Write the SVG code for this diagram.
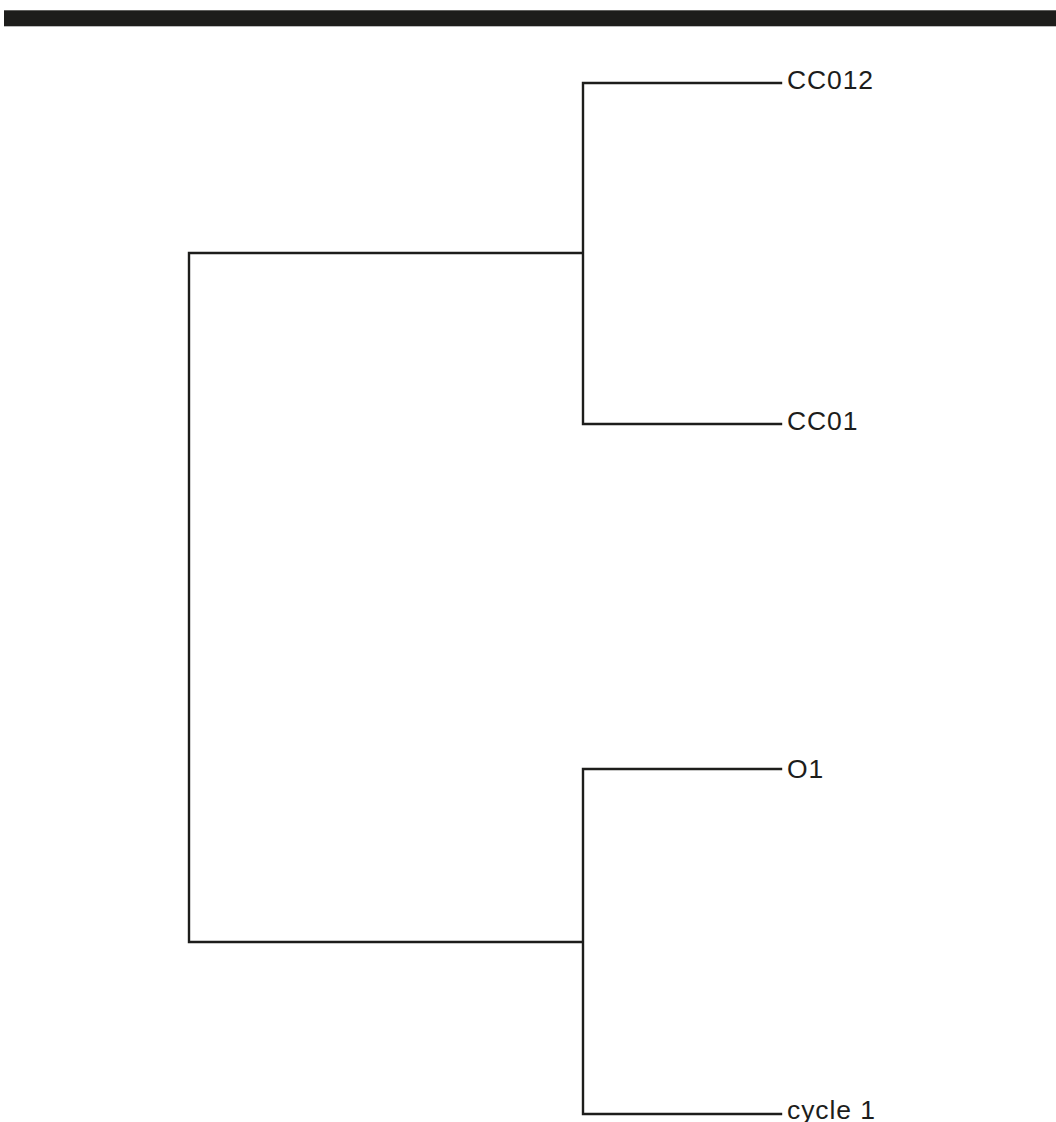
<svg xmlns="http://www.w3.org/2000/svg" width="1056" height="1122" viewBox="0 0 1056 1122">
<style>
.e{fill:none;stroke:#1d1d1b;stroke-width:2.4;stroke-linecap:square}
.t{font-family:"Liberation Sans",Arial,sans-serif;font-size:26.5px;letter-spacing:0.9px;fill:#1d1d1b}
</style>
<rect width="1056" height="1122" fill="#fff"/>
<rect x="4" y="10.3" width="1052" height="16" fill="#1d1d1b"/>
<g id="connectors">
<path class="e" d="M189,253 V942 M189,253 H583 M189,942 H583 M583,83 V424 M583,83 H781 M583,424 H781 M583,769 V1114 M583,769 H781 M583,1114 H781"/>
</g>
<g id="n-CC012"><text class="t" x="787" y="88.5">CC012</text></g>
<g id="n-CC01"><text class="t" x="787" y="430">CC01</text></g>
<g id="n-O1"><text class="t" x="787" y="777.5">O1</text></g>
<g id="n-cycle1"><text class="t" x="787" y="1118.5">cycle 1</text></g>
</svg>
